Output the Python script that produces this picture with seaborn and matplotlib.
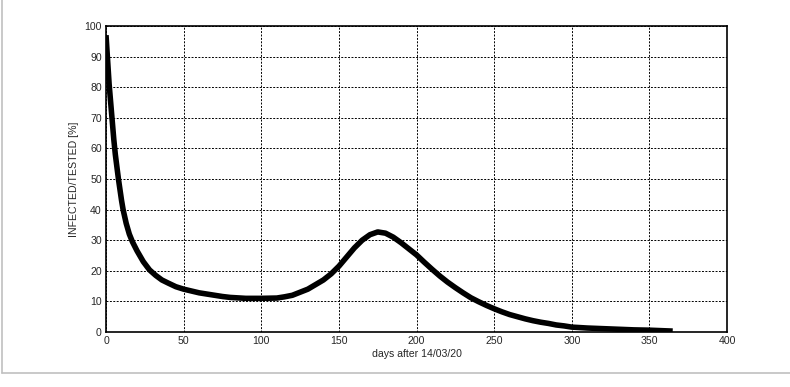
import pandas as pd
import seaborn as sns
import matplotlib.pyplot as plt
from matplotlib.lines import Line2D

# values
days = [0, 1, 2, 3, 4, 5, 6, 7, 8, 9, 10, 11, 13, 15, 17, 20, 24, 28, 32, 36,
        40, 45, 50, 55, 60, 65, 70, 75, 80, 90, 100, 110, 115, 120, 125, 130,
        135, 140, 145, 150, 155, 160, 165, 170, 175, 180, 185, 190, 195, 200,
        205, 210, 215, 220, 225, 230, 235, 240, 245, 250, 255, 260, 265, 270,
        275, 280, 285, 290, 295, 300, 310, 320, 330, 340, 350, 360, 365]
infected = [97, 89, 81, 75, 69, 63, 58, 54, 50, 46.5, 43, 40, 35.5, 32, 29.5,
            26.5, 23, 20.3, 18.5, 17, 16, 14.8, 14, 13.4, 12.8, 12.4, 12, 11.6,
            11.3, 11, 11, 11.1, 11.5, 12, 13, 14, 15.5, 17, 19, 21.5, 24.5,
            27.5, 30, 31.8, 32.7, 32.3, 31, 29.2, 27.2, 25.2, 22.8, 20.5, 18.3,
            16.3, 14.5, 12.8, 11.2, 9.9, 8.7, 7.6, 6.6, 5.7, 5, 4.3, 3.7, 3.2,
            2.8, 2.3, 2, 1.6, 1.3, 1.1, 0.9, 0.7, 0.6, 0.4, 0.3]

xticks = [0, 50, 100, 150, 200, 250, 300, 350, 400]
yticks = [0, 10, 20, 30, 40, 50, 60, 70, 80, 90, 100]

df = pd.DataFrame({"day": days, "pct": infected})

sns.set_style("white")
plt.rcParams['font.family'] = ['Liberation Sans', 'DejaVu Sans']

fig = plt.figure(figsize=(7.9, 3.87), dpi=100)
ax = fig.add_axes([0.1342, 0.1421, 0.7861, 0.7907])

sns.lineplot(data=df, x="day", y="pct", color="black", linewidth=4.0, ax=ax,
             solid_joinstyle="round", solid_capstyle="butt")

ax.set_xlim(0, 400)
ax.set_ylim(0, 100)
ax.set_xticks(xticks)
ax.set_yticks(yticks)
ax.tick_params(labelsize=7.6, length=0, pad=3)
ax.grid(True, color="black", linestyle=(0, (2, 1.5)), linewidth=0.7)
for s in ax.spines.values():
    s.set_color("black")
    s.set_linewidth(1.2)

ax.set_xlabel("days after 14/03/20", fontsize=7.6, labelpad=2)
ax.set_ylabel("INFECTED/TESTED [%]", fontsize=7.6, labelpad=4)

# light grey frame on left and bottom of the picture
fig.add_artist(Line2D([0.003, 0.003], [0.036, 1.0], color="#c0c0c0", lw=1.2))
fig.add_artist(Line2D([0.003, 1.0], [0.036, 0.036], color="#c0c0c0", lw=1.2))

fig.savefig("out.png", dpi=100)
